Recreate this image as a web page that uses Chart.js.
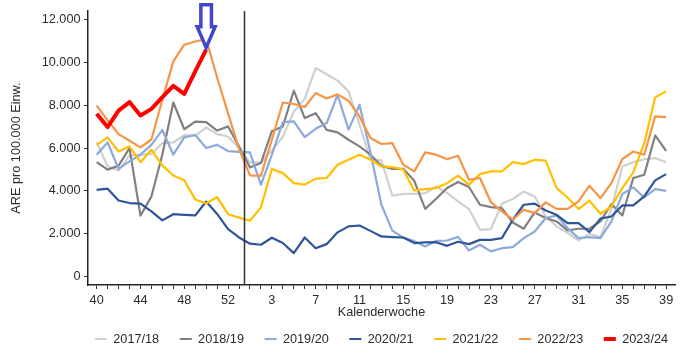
<!DOCTYPE html>
<html>
<head>
<meta charset="utf-8">
<script src="https://cdn.jsdelivr.net/npm/chart.js@4/dist/chart.umd.min.js"></script>
<style>
  html, body { margin: 0; padding: 0; background: #ffffff; }
  #wrap { width: 692px; height: 356px; }
</style>
</head>
<body>
<div id="wrap"><canvas id="c" width="692" height="356"></canvas></div>
<script>
// Calendar weeks (season runs from week 40 to week 39, including week 53)
const weeks = ['40','41','42','43','44','45','46','47','48','49','50','51','52','53',
  '1','2','3','4','5','6','7','8','9','10','11','12','13','14','15','16','17','18','19','20',
  '21','22','23','24','25','26','27','28','29','30','31','32','33','34','35','36','37','38','39'];

const seasonNames = ['2017/18','2018/19','2019/20','2020/21','2021/22','2022/23','2023/24'];

const s2017_18 = [6270,5150,4950,5650,5690,5720,6230,6260,6600,6580,6960,6650,6540,6000,
  5330,5330,5900,6520,7700,8300,9740,9450,9150,8650,7100,5450,5420,3770,3860,3860,3890,4200,3900,3510,
  3150,2180,2210,3400,3620,3970,3740,2800,2340,2030,1690,1990,1840,3150,5140,5340,5480,5530,5340];

const s2018_19 = [5340,4990,5180,6000,2840,3740,5700,8130,6880,7240,7210,6820,7010,6080,
  5090,5300,6790,7010,8680,7400,7630,6850,6730,6390,6080,5690,5170,5030,5030,4470,3160,3630,4130,4410,
  4180,3350,3240,3190,2520,2230,2990,2730,2570,2150,2230,2230,2570,3380,2850,4600,4750,6590,5870];

const s2019_20 = [5690,6260,5030,5380,5690,6150,6850,5690,6500,6610,6000,6150,5860,5820,
  5800,4280,5690,7210,7250,6510,6900,7170,8490,6860,8020,5800,3350,2140,1810,1650,1400,1660,1680,1850,
  1215,1480,1170,1320,1370,1790,2100,2730,2850,2260,1790,1840,1790,2570,3850,4160,3690,4080,4000];

const s2020_21 = [4050,4100,3550,3430,3400,3040,2620,2910,2880,2850,3500,2920,2210,1820,
  1530,1480,1810,1560,1090,1820,1320,1510,2060,2340,2380,2130,1870,1840,1820,1560,1590,1600,1430,1620,
  1510,1710,1710,1790,2650,3350,3400,3080,2880,2490,2490,2070,2700,2800,3320,3320,3740,4490,4780];

const s2021_22 = [6150,6500,5840,6080,5340,5920,5190,4720,4490,3600,3410,3710,2910,2750,
  2600,3230,5020,4830,4360,4290,4570,4600,5220,5450,5690,5450,5140,5110,4990,4020,4080,4130,4360,4710,
  4290,4780,4910,4910,5340,5250,5450,5410,4130,3690,3150,3540,2930,3270,4130,4860,6230,8370,8650];

const s2022_23 = [7980,7300,6650,6340,6030,6400,8260,10050,10830,10980,11090,9300,7620,5950,
  4720,4700,6390,8130,8060,7920,8570,8320,8510,8210,7480,6470,6190,6230,5220,4910,5800,5690,5480,5640,
  4520,4600,3470,3040,2650,3120,2960,3460,3160,3160,3510,4240,3660,4360,5480,5840,5690,7480,7450];

const s2023_24 = [7600,6980,7750,8150,7520,7830,8380,8910,8530,9580,10600];

const yTickValues = [0,2000,4000,6000,8000,10000,12000];

const seriesValues = [s2017_18, s2018_19, s2019_20, s2020_21, s2021_22, s2022_23, s2023_24];
const seriesColors = ['#d0d0d0','#808080','#8eaadb','#2f5597','#ffc000','#f79446','#ff0000'];
const seriesWidths = [2.2,2.2,2.2,2.2,2.2,2.2,4];
const seriesOrder = [6,5,4,3,2,1,0];

const FONT = "'Liberation Sans', Arial, sans-serif";
const TXT = '#2b2b2b';

function toPoints(arr) { return arr.map((v, i) => ({x: i, y: v})); }
function fmt(v) { return String(v).replace(/\B(?=(\d{3})+(?!\d))/g, '.'); }

const datasets = seasonNames.map((name, k) => ({
  label: name,
  data: toPoints(seriesValues[k]),
  borderColor: seriesColors[k],
  backgroundColor: seriesColors[k],
  borderWidth: seriesWidths[k],
  pointRadius: 0,
  pointHoverRadius: 0,
  tension: 0,
  fill: false,
  borderJoinStyle: 'round',
  order: seriesOrder[k]
}));

const decor = {
  id: 'decor',
  afterLayout(chart) {
    const lg = chart.legend;
    if (!lg) return;
    const ca = chart.chartArea;
    const shift = (ca.left + ca.right) / 2 - (lg.left + lg.right) / 2;
    lg.left += shift; lg.right += shift;
    const pad = lg.options.labels.padding;
    const fs = lg.options.labels.font.size;
    const h = lg.height;
    lg.top = 339 - fs / 2 - pad;
    lg.bottom = lg.top + h;
  },
  afterDatasetsDraw(chart) {
    const ctx = chart.ctx;
    const xs = chart.scales.x, ca = chart.chartArea;
    // season boundary line between week 53 and week 1
    const xb = xs.getPixelForValue(13.5);
    ctx.save();
    ctx.strokeStyle = '#303030';
    ctx.lineWidth = 1.5;
    ctx.beginPath();
    ctx.moveTo(xb, ca.top);
    ctx.lineTo(xb, ca.bottom);
    ctx.stroke();
    // arrow pointing to the latest value of the current season
    const meta = chart.getDatasetMeta(6);
    const last = meta.data[meta.data.length - 1];
    const tx = last.x, ty = last.y - 2;
    ctx.beginPath();
    ctx.moveTo(tx, ty);
    ctx.lineTo(tx - 9, ty - 21);
    ctx.lineTo(tx - 5.3, ty - 21);
    ctx.lineTo(tx - 5.3, ty - 43);
    ctx.lineTo(tx + 5.3, ty - 43);
    ctx.lineTo(tx + 5.3, ty - 21);
    ctx.lineTo(tx + 9, ty - 21);
    ctx.closePath();
    ctx.fillStyle = '#ffffff';
    ctx.fill();
    ctx.lineJoin = 'miter';
    ctx.lineWidth = 3.5;
    ctx.strokeStyle = '#3f48cc';
    ctx.stroke();
    ctx.restore();
  }
};

new Chart(document.getElementById('c'), {
  type: 'line',
  data: { datasets },
  plugins: [decor],
  options: {
    responsive: false,
    devicePixelRatio: 1,
    animation: false,
    events: [],
    layout: { padding: { left: 0, top: 11, right: 17, bottom: 0 } },
    plugins: {
      tooltip: { enabled: false },
      title: { display: false },
      legend: {
        display: true,
        position: 'bottom',
        labels: {
          usePointStyle: true,
          pointStyle: 'line',
          pointStyleWidth: 12,
          boxWidth: 12,
          padding: 20.6,
          color: TXT,
          font: { family: FONT, size: 12.7 },
          sort: (a, b) => a.datasetIndex - b.datasetIndex
        }
      }
    },
    scales: {
      x: {
        type: 'linear',
        min: -0.79,
        max: 52.81,
        afterBuildTicks: (scale) => { scale.ticks = weeks.map((w, i) => ({ value: i })); },
        afterFit: (scale) => { scale.height = 27.7; },
        ticks: {
          autoSkip: false,
          maxRotation: 0,
          minRotation: 0,
          padding: 3.4,
          color: TXT,
          font: { family: FONT, size: 12.7 },
          callback: (v) => (v % 4 === 0 ? weeks[v] : '')
        },
        grid: { display: true, drawOnChartArea: false, drawTicks: true, tickLength: 4, tickColor: '#303030', tickWidth: 1 },
        border: { display: true, color: '#262626', width: 1.5 },
        title: { display: true, text: 'Kalenderwoche', color: TXT, font: { family: FONT, size: 12.7 }, padding: { top: 0, bottom: -7.9 } }
      },
      y: {
        type: 'linear',
        min: -400,
        max: 12400,
        afterBuildTicks: (scale) => { scale.ticks = yTickValues.map(v => ({ value: v })); },
        afterFit: (scale) => { scale.width = 88; },
        ticks: {
          padding: 3.5,
          color: TXT,
          font: { family: FONT, size: 12.7 },
          callback: (v) => fmt(v)
        },
        grid: { display: true, drawOnChartArea: false, drawTicks: true, tickLength: 4, tickColor: '#303030', tickWidth: 1 },
        border: { display: true, color: '#262626', width: 1.5 },
        title: { display: true, text: 'ARE pro 100.000 Einw.', color: TXT, font: { family: FONT, size: 12.7 }, padding: { top: 8.4, bottom: 0 } }
      }
    }
  }
});
</script>
</body>
</html>
